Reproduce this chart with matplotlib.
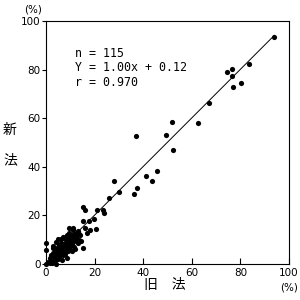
import matplotlib
matplotlib.use("Agg")
import matplotlib.pyplot as plt
import numpy as np

# upper / mid points (old method x, new method y), %
x_main = [94.0, 83.4, 74.4, 76.4, 76.7, 76.8, 80.4, 67.2, 62.7, 51.7, 49.4, 52.4,
          36.9, 45.8, 43.5, 41.2, 37.3, 36.3, 30.0, 27.9, 25.8, 23.3, 23.9,
          15.1, 16.0, 20.9, 19.9, 17.8, 15.4, 18.1, 20.6, 17.0, 13.7, 12.9, 14.3,
          15.4, 9.6, 11.2, 9.6, 8.5, 7.1, 4.9, 6.3, 3.0, 5.1, 10.6, 9.2,
          0.0, 0.0, 0.0, 4.1, 2.3]
y_main = [93.5, 82.3, 79.0, 80.1, 77.4, 73.0, 74.4, 66.4, 58.1, 58.4, 53.2, 46.8,
          52.7, 38.3, 34.3, 36.2, 31.4, 28.7, 29.5, 34.3, 27.3, 22.2, 20.9,
          23.3, 22.2, 22.2, 18.5, 17.8, 17.7, 14.0, 14.4, 12.9, 12.3, 10.2, 9.6,
          6.7, 14.7, 14.7, 12.6, 11.9, 11.2, 10.2, 10.2, 6.5, 7.1, 7.8, 9.2,
          8.6, 5.9, 0.0, 0.0, 2.3]
# dense low cluster
x_low = [1, 1.5, 2, 2, 2.5, 3, 3, 3.5, 3.5, 4,
         4, 4, 4.5, 4.5, 5, 5, 5, 5.5, 5.5, 6,
         6, 6, 6.5, 6.5, 7, 7, 7, 7.5, 7.5, 8,
         8, 8, 8.5, 8.5, 9, 9, 9.5, 9.5, 10, 10,
         10.5, 10.5, 11, 11, 11.5, 12, 12, 12.5, 13, 13,
         2.5, 1.5, 3, 4, 5.5, 7.5, 6.5, 8.5, 11, 13.5,
         14, 16, 12]
y_low = [1, 2.5, 1, 3.5, 2, 3, 4.5, 1.5, 5, 2.5,
         4, 6, 3.5, 5, 2, 4.5, 6, 3, 5.5, 4,
         6.5, 8.5, 5, 7, 3.5, 6, 8, 5, 7, 4,
         6, 8.5, 7, 10, 5.5, 8, 6.5, 11, 8.5, 10,
         5.5, 12, 9, 11, 7, 10, 12.5, 11, 8.5, 13.5,
         0.5, 0.3, 7.5, 9, 8, 10.5, 1.5, 2.5, 14, 10,
         12, 15, 6]

n_label = "n = 115"
fit_slope = 1.00
fit_intercept = 0.12
r_value = 0.970
ticks = [0, 20, 40, 60, 80, 100]

x = np.array(x_main + x_low)
y = np.array(y_main + y_low)

fig = plt.figure(figsize=(3, 3), dpi=100)
ax = fig.add_axes([46/300, 36/300, 243/300, 243/300])
ax.scatter(x, y, s=14, color="black", clip_on=False, zorder=3, linewidths=0)
xl = np.array([0, x.max()])
ax.plot(xl, fit_slope * xl + fit_intercept, color="black", lw=0.7)

ax.set_xlim(0, 100)
ax.set_ylim(0, 100)
ax.set_xticks(ticks)
ax.set_yticks(ticks)
ax.tick_params(axis="x", direction="in", length=4, width=0.8, labelsize=7.5, pad=3)
ax.tick_params(axis="y", direction="out", length=3, width=0.8, labelsize=7.5, pad=1)
for s in ax.spines.values():
    s.set_linewidth(0.8)

jp = ["Noto Sans CJK JP", "DejaVu Sans"]
fig.text(10/300, 1 - 130/300, "新", fontsize=10, family=jp, ha="center", va="center")
fig.text(10/300, 1 - 160/300, "法", fontsize=10, family=jp, ha="center", va="center")
fig.text(165/300, 1 - 285/300, "旧　法", fontsize=10, family=jp, ha="center", va="center")
fig.text(33/300, 1 - 9/300, "(%)", fontsize=7.5, ha="center", va="center")
fig.text(289/300, 1 - 287/300, "(%)", fontsize=7.5, ha="center", va="center")

txt = f"{n_label}\nY = {fit_slope:.2f}x + {fit_intercept:.2f}\nr = {r_value:.3f}"
ax.text(0.12, 0.895, txt, transform=ax.transAxes, fontsize=8.4, va="top", ha="left",
        family="DejaVu Sans Mono", linespacing=1.15)

fig.savefig("out.png", dpi=100)
